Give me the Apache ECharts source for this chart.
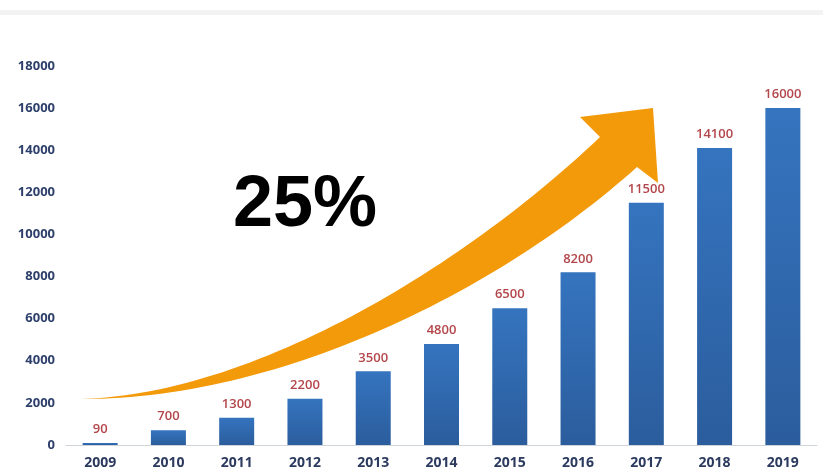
<!DOCTYPE html>
<html>
<head>
<meta charset="utf-8">
<script src="https://cdn.jsdelivr.net/npm/echarts@6/dist/echarts.min.js"></script>
<style>html,body{margin:0;padding:0;background:#fff}#c{width:823px;height:476px}</style>
</head>
<body>
<div id="c"></div>
<script>
const years = ['2009','2010','2011','2012','2013','2014','2015','2016','2017','2018','2019'];
const values = [90, 700, 1300, 2200, 3500, 4800, 6500, 8200, 11500, 14100, 16000];
const yTicks = { min: 0, max: 18000, interval: 2000 };
const growthText = '25%';

// decorative arrow outline: two cubic Bezier edges plus the head
function cubic(p0, p1, p2, p3, n) {
  const out = [];
  for (let k = 0; k <= n; k++) {
    const t = k / n, u = 1 - t;
    out.push([
      u*u*u*p0[0] + 3*u*u*t*p1[0] + 3*u*t*t*p2[0] + t*t*t*p3[0],
      u*u*u*p0[1] + 3*u*u*t*p1[1] + 3*u*t*t*p2[1] + t*t*t*p3[1]
    ]);
  }
  return out;
}
const upperEdge = cubic([80,399], [250,395], [460,270], [600,137], 60);
const lowerEdge = cubic([80,399], [280,400], [500,290], [637,167], 60).reverse();
const arrowPts = upperEdge.concat([[580,117],[653,108],[658,183]], lowerEdge);

const chart = echarts.init(document.getElementById('c'));
chart.setOption({
  backgroundColor: '#ffffff',
  animation: false,
  grid: { left: 66, right: 6, top: 66, bottom: 31 },
  xAxis: {
    type: 'category',
    data: years,
    axisLine: { lineStyle: { color: '#cfd3da', width: 1 } },
    axisTick: { show: false },
    axisLabel: { color: '#2b3a5e', fontWeight: 'bold', fontSize: 14, margin: 11, fontFamily: 'Open Sans' }
  },
  yAxis: {
    type: 'value',
    min: yTicks.min, max: yTicks.max, interval: yTicks.interval,
    splitLine: { show: false },
    axisLine: { show: false },
    axisTick: { show: false },
    axisLabel: { color: '#2d3f6a', fontWeight: 'bold', fontSize: 13, margin: 11, fontFamily: 'Open Sans',
      formatter: v => String(v) }
  },
  series: [{
    type: 'bar',
    data: values,
    barWidth: 35,
    itemStyle: {
      color: new echarts.graphic.LinearGradient(0, 0, 0, 1, [
        { offset: 0, color: '#3574bf' },
        { offset: 1, color: '#2b5d9d' }
      ])
    },
    label: {
      show: true, position: 'top', distance: 7,
      color: '#b3464b', fontSize: 13, fontWeight: 600, fontFamily: 'Open Sans'
    }
  }],
  graphic: [
    { type: 'rect', left: 0, top: 10, shape: { width: 823, height: 5 }, style: { fill: '#f3f3f3' }, z: -1 },
    { type: 'polygon', shape: { points: arrowPts }, style: { fill: '#f39a0a' }, z: 10 },
    { type: 'text', left: 233, top: 170, style: { text: growthText, fill: '#000', font: 'bold 72px "Liberation Sans", Arial, sans-serif' }, z: 11 }
  ]
});
</script>
</body>
</html>
